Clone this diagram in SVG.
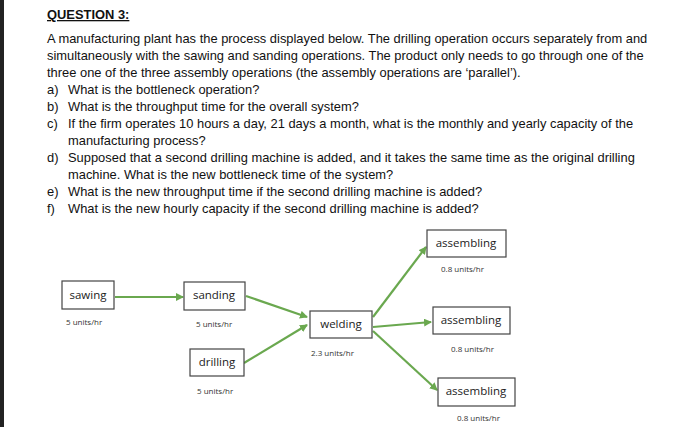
<svg xmlns="http://www.w3.org/2000/svg" width="700" height="427" viewBox="0 0 700 427">
<defs>
<style>
.t{font-family:"Liberation Sans",Arial,sans-serif;font-size:12.9px;fill:#111}
.b{fill:#fff;stroke:#444;stroke-width:1.2}
.n{font-family:"Open Sans","Liberation Sans",sans-serif;font-size:11.5px;fill:#222}
.s{font-family:"Open Sans","Liberation Sans",sans-serif;font-size:8px;fill:#333}
.c{stroke:#6aa84f;stroke-width:2.2;fill:none;marker-end:url(#a)}
</style>
<marker id="a" markerWidth="8" markerHeight="8" refX="7" refY="4" orient="auto" markerUnits="userSpaceOnUse"><path d="M0,0 L8,4 L0,8 z" fill="#6aa84f"/></marker>
</defs>
<rect width="700" height="427" fill="#fff"/>
<rect width="4" height="427" fill="#222"/>
<text class="t" x="47" y="19" font-weight="bold" text-decoration="underline">QUESTION 3:</text>
<text class="t" x="47" y="43">A manufacturing plant has the process displayed below. The drilling operation occurs separately from and</text>
<text class="t" x="47" y="60">simultaneously with the sawing and sanding operations. The product only needs to go through one of the</text>
<text class="t" x="47" y="77">three one of the three assembly operations (the assembly operations are ‘parallel’).</text>
<text class="t" x="47" y="94">a)</text><text class="t" x="68" y="94">What is the bottleneck operation?</text>
<text class="t" x="47" y="111">b)</text><text class="t" x="68" y="111">What is the throughput time for the overall system?</text>
<text class="t" x="47" y="128">c)</text><text class="t" x="68" y="128">If the firm operates 10 hours a day, 21 days a month, what is the monthly and yearly capacity of the</text>
<text class="t" x="68" y="145">manufacturing process?</text>
<text class="t" x="47" y="162">d)</text><text class="t" x="68" y="162">Supposed that a second drilling machine is added, and it takes the same time as the original drilling</text>
<text class="t" x="68" y="179">machine. What is the new bottleneck time of the system?</text>
<text class="t" x="47" y="196">e)</text><text class="t" x="68" y="196">What is the new throughput time if the second drilling machine is added?</text>
<text class="t" x="47" y="213">f)</text><text class="t" x="68" y="213">What is the new hourly capacity if the second drilling machine is added?</text>
<g id="connectors">
<line class="c" x1="115" y1="297" x2="183" y2="297"/>
<line class="c" x1="246" y1="296" x2="307" y2="317"/>
<line class="c" x1="244" y1="363" x2="307" y2="325"/>
<line class="c" x1="373" y1="317" x2="426" y2="247"/>
<line class="c" x1="373" y1="327" x2="431" y2="322"/>
<line class="c" x1="373" y1="331" x2="437" y2="390"/>
</g>
<g id="sawing"><rect class="b" x="62" y="281" width="52" height="28"/><text class="n" x="88" y="299" text-anchor="middle">sawing</text><text class="s" x="66" y="325">5 units/hr</text></g>
<g id="sanding"><rect class="b" x="184" y="282" width="61" height="28"/><text class="n" x="214" y="299" text-anchor="middle">sanding</text><text class="s" x="196" y="327">5 units/hr</text></g>
<g id="drilling"><rect class="b" x="190" y="349" width="54" height="27"/><text class="n" x="217" y="366" text-anchor="middle">drilling</text><text class="s" x="197" y="394">5 units/hr</text></g>
<g id="welding"><rect class="b" x="310" y="311" width="62" height="27"/><text class="n" x="341" y="328" text-anchor="middle">welding</text><text class="s" x="311" y="356">2.3 units/hr</text></g>
<g id="assembling1"><rect class="b" x="427" y="230" width="79" height="27"/><text class="n" x="466" y="247" text-anchor="middle">assembling</text><text class="s" x="441" y="272">0.8 units/hr</text></g>
<g id="assembling2"><rect class="b" x="433" y="307" width="77" height="27"/><text class="n" x="471" y="324" text-anchor="middle">assembling</text><text class="s" x="451" y="352">0.8 units/hr</text></g>
<g id="assembling3"><rect class="b" x="438" y="378" width="77" height="28"/><text class="n" x="476" y="395" text-anchor="middle">assembling</text><text class="s" x="457" y="421">0.8 units/hr</text></g>
</svg>
